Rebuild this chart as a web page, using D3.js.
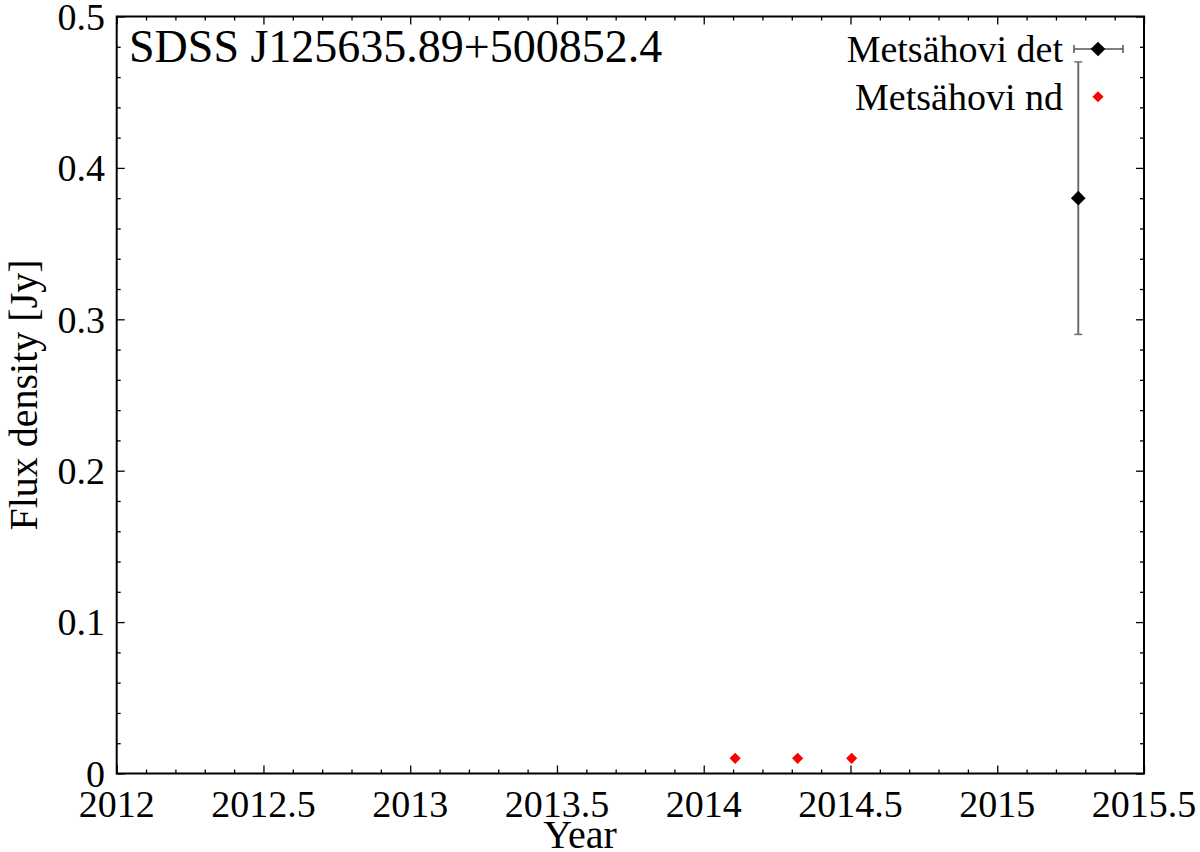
<!DOCTYPE html>
<html><head><meta charset="utf-8">
<script src="https://cdn.jsdelivr.net/npm/d3@7"></script>
<style>body{margin:0;background:#fff}svg{display:block}text{font-family:"Liberation Serif","Times New Roman",serif;fill:#000}</style>
</head><body>
<script>
const title = "SDSS J125635.89+500852.4";
const detYears = [2015.276];
const detFlux = [0.38];
const detErr = [0.09];
const ndYears = [2014.107, 2014.32, 2014.504];
const ndFlux = [0.01, 0.01, 0.01];
const xTicks = [2012, 2012.5, 2013, 2013.5, 2014, 2014.5, 2015, 2015.5];
const yTicks = [0, 0.1, 0.2, 0.3, 0.4, 0.5];
const legendLabels = ["Metsähovi det", "Metsähovi nd"];

const W = 1200, H = 852;
const L = 116.7, R = 1144, T = 16.5, B = 773.5;
const svg = d3.select("body").append("svg").attr("width", W).attr("height", H);
const x = d3.scaleLinear().domain([2012, 2015.5]).range([L, R]);
const y = d3.scaleLinear().domain([0, 0.5]).range([B, T]);

const xMinor = d3.range(0, 36).map(i => 2012 + i * 0.1).filter(v => !xTicks.some(t => Math.abs(t - v) < 1e-6));
const yMinor = d3.range(0, 26).map(i => i * 0.02).filter(v => !yTicks.some(t => Math.abs(t - v) < 1e-6));

function fmt(v){ return String(+v.toFixed(2)); }

// axes with inward ticks
const gB = svg.append("g").attr("transform", `translate(0,${B})`);
gB.call(d3.axisTop(x).tickValues(xTicks).tickSize(8).tickFormat(""));
gB.call(g => g.append("g").call(d3.axisTop(x).tickValues(xMinor).tickSize(4).tickFormat("")));
const gT = svg.append("g").attr("transform", `translate(0,${T})`);
gT.call(d3.axisBottom(x).tickValues(xTicks).tickSize(8).tickFormat(""));
gT.call(g => g.append("g").call(d3.axisBottom(x).tickValues(xMinor).tickSize(4).tickFormat("")));
const gL = svg.append("g").attr("transform", `translate(${L},0)`);
gL.call(d3.axisRight(y).tickValues(yTicks).tickSize(8).tickFormat(""));
gL.call(g => g.append("g").call(d3.axisRight(y).tickValues(yMinor).tickSize(4).tickFormat("")));
const gR = svg.append("g").attr("transform", `translate(${R},0)`);
gR.call(d3.axisLeft(y).tickValues(yTicks).tickSize(8).tickFormat(""));
gR.call(g => g.append("g").call(d3.axisLeft(y).tickValues(yMinor).tickSize(4).tickFormat("")));
svg.selectAll(".domain").remove();
svg.selectAll(".tick line").attr("stroke", "#000").attr("stroke-width", 1.3);

svg.append("rect").attr("x", L).attr("y", T).attr("width", R - L).attr("height", B - T)
  .attr("fill", "none").attr("stroke", "#000").attr("stroke-width", 2);

// tick labels
svg.append("g").selectAll("text").data(xTicks).join("text")
  .attr("x", d => x(d)).attr("y", 816.5).attr("text-anchor", "middle")
  .attr("font-size", 38).text(d => fmt(d));
svg.append("g").selectAll("text").data(yTicks).join("text")
  .attr("x", 105).attr("y", d => y(d)).attr("dy", "0.35em").attr("text-anchor", "end")
  .attr("font-size", 38).text(d => fmt(d));

// axis labels
svg.append("text").attr("x", 580).attr("y", 848).attr("text-anchor", "middle").attr("font-size", 40).text("Year");
svg.append("text").attr("transform", `translate(37,${(T + B) / 2}) rotate(-90)`).attr("text-anchor", "middle")
  .attr("font-size", 40).text("Flux density [Jy]");

// title
svg.append("text").attr("x", 129).attr("y", 62).attr("font-size", 46).text(title);

const diamond = (s) => d3.symbol().type(d3.symbolSquare).size(s)();

// detections with error bars
const det = detYears.map((t, i) => ({t, f: detFlux[i], e: detErr[i]}));
const gD = svg.append("g");
det.forEach(d => {
  gD.append("line").attr("x1", x(d.t)).attr("x2", x(d.t)).attr("y1", y(d.f - d.e)).attr("y2", y(d.f + d.e))
    .attr("stroke", "#6e6e6e").attr("stroke-width", 2);
  [d.f - d.e, d.f + d.e].forEach(v => gD.append("line").attr("x1", x(d.t) - 4).attr("x2", x(d.t) + 4)
    .attr("y1", y(v)).attr("y2", y(v)).attr("stroke", "#6e6e6e").attr("stroke-width", 1.5));
  gD.append("path").attr("d", diamond(108)).attr("fill", "#000")
    .attr("transform", `translate(${x(d.t)},${y(d.f)}) rotate(45)`);
});

// non-detections
svg.append("g").selectAll("path").data(ndYears.map((t, i) => ({t, f: ndFlux[i]}))).join("path")
  .attr("d", diamond(62)).attr("fill", "#ff0000")
  .attr("transform", d => `translate(${x(d.t)},${y(d.f)}) rotate(45)`);

// legend
const lg = svg.append("g");
lg.append("text").attr("x", 1063).attr("y", 62).attr("text-anchor", "end").attr("font-size", 38).text(legendLabels[0]);
lg.append("text").attr("x", 1063).attr("y", 110).attr("text-anchor", "end").attr("font-size", 38).text(legendLabels[1]);
lg.append("line").attr("x1", 1074).attr("x2", 1123).attr("y1", 49).attr("y2", 49).attr("stroke", "#555").attr("stroke-width", 1.5);
[1074, 1123].forEach(v => lg.append("line").attr("x1", v).attr("x2", v).attr("y1", 45).attr("y2", 53).attr("stroke", "#555").attr("stroke-width", 1.5));
lg.append("path").attr("d", diamond(108)).attr("fill", "#000").attr("transform", "translate(1098,49) rotate(45)");
lg.append("path").attr("d", diamond(62)).attr("fill", "#ff0000").attr("transform", "translate(1098,96.7) rotate(45)");
</script>
</body></html>
